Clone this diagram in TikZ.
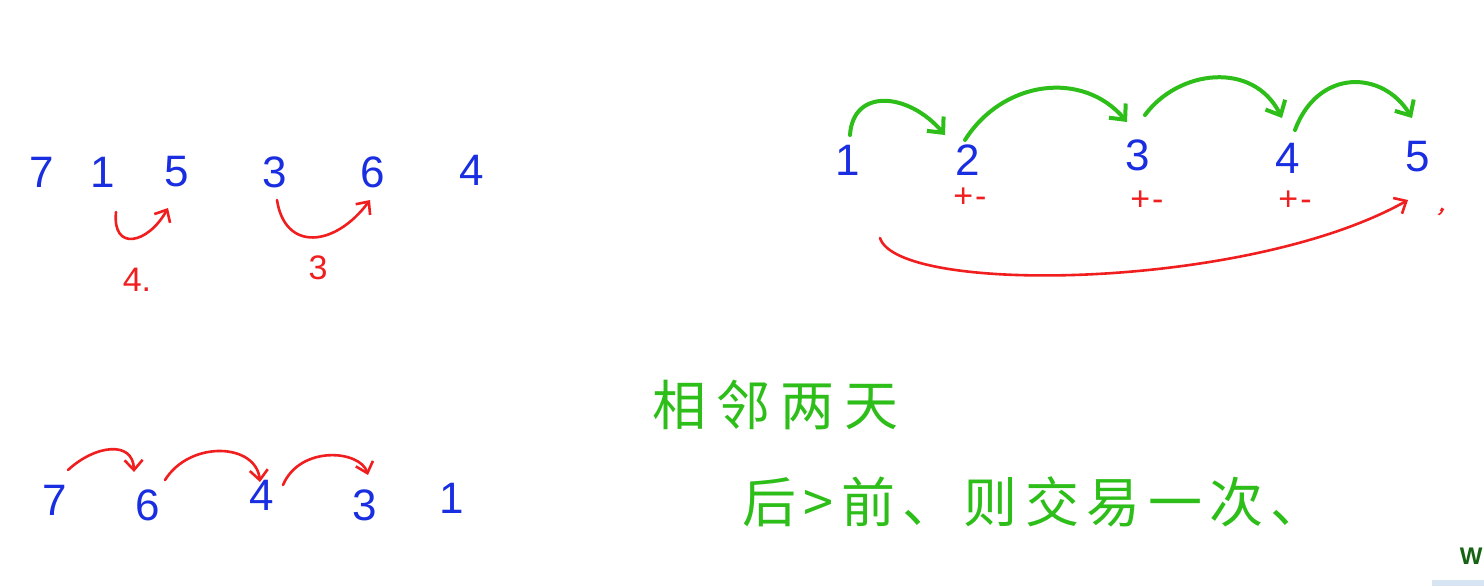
\documentclass[tikz,border=0pt]{standalone}
\usepackage{fontspec}
\setmainfont{Liberation Sans}
\newfontfamily\cjk{Noto Sans CJK SC}
\usetikzlibrary{arrows.meta,calc}
\definecolor{inkblue}{RGB}{25,45,225}
\definecolor{inkred}{RGB}{240,30,30}
\definecolor{inkgreen}{RGB}{45,190,25}
\definecolor{wgreen}{RGB}{20,100,20}
\definecolor{barblue}{RGB}{215,228,242}
\tikzset{
  num/.style={text=inkblue, font=\fontsize{22}{24}\selectfont, inner sep=0pt},
  rlabel/.style={text=inkred, font=\fontsize{17}{19}\selectfont, inner sep=0pt},
  pm/.style={text=inkred, font=\fontsize{17}{19}\selectfont, inner sep=0pt},
  note/.style={text=inkgreen, font=\cjk\fontsize{27}{30}\selectfont, inner sep=0pt, anchor=west},
  redarc/.style={draw=inkred, line width=1.3pt, line cap=round, -{Straight Barb[length=5pt,width=9pt,line width=1.3pt]}},
  greenarc/.style={draw=inkgreen, line width=2pt, line cap=round, -{Straight Barb[length=6pt,width=11pt,line width=2pt]}}
}
\begin{document}
\begin{tikzpicture}[x=0.5pt,y=-0.5pt]
\useasboundingbox (0,0) rectangle (1484,586);
\fill[white] (0,0) rectangle (1484,586);
% top-left row
\node[num] (a7) at (42,172) {7};
\node[num] (a1) at (103,172) {1};
\node[num] (a5) at (177,172) {5};
\node[num] (a3) at (275,172) {3};
\node[num] (a6) at (373,172) {6};
\node[num] (a4) at (472,170) {4};
\draw[redarc] ($(a1)+(13,40)$) .. controls ($(a1)+(9,80)$) and ($(a1)+(45,72)$) .. ($(a5)+(-9,36)$);
\draw[redarc] ($(a3)+(2,28)$) .. controls ($(a3)+(10,80)$) and ($(a3)+(60,75)$) .. ($(a6)+(-3,28)$);
\node[rlabel] (l4) at (137,280) {4.};
\node[rlabel] (l3) at (318,268) {3};
% right row
\node[num] (b1) at (848,160) {1};
\node[num] (b2) at (968,160) {2};
\node[num] (b3) at (1138,155) {3};
\node[num] (b4) at (1288,158) {4};
\node[num] (b5) at (1418,157) {5};
\draw[greenarc] ($(b1)+(2,-25)$) .. controls ($(b1)+(5,-72)$) and ($(b1)+(60,-68)$) .. ($(b2)+(-23,-25)$);
\draw[greenarc] ($(b2)+(-3,-20)$) .. controls ($(b2)+(35,-80)$) and ($(b2)+(115,-90)$) .. ($(b3)+(-11,-33)$);
\draw[greenarc] ($(b3)+(7,-40)$) .. controls ($(b3)+(40,-85)$) and ($(b3)+(115,-95)$) .. ($(b4)+(-6,-40)$);
\draw[greenarc] ($(b4)+(7,-28)$) .. controls ($(b4)+(30,-90)$) and ($(b4)+(95,-88)$) .. ($(b5)+(-6,-39)$);
\node[pm] (p2) at (970,198) {+\kern1pt-};
\node[pm] (p3) at (1147,201) {+\kern1pt-};
\node[pm] (p4) at (1295,201) {+\kern1pt-};
\draw[redarc] ($(b1)+(32,78)$) .. controls ($(b1)+(50,135)$) and ($(b1)+(400,130)$) .. ($(b5)+(-10,43)$);
\node[rlabel] (tick) at (1441,212) {\rotatebox{-30}{,}};
% bottom-left row
\node[num] (c7) at (55,500) {7};
\node[num] (c6) at (148,505) {6};
\node[num] (c4) at (262,495) {4};
\node[num] (c3) at (365,505) {3};
\node[num] (c1) at (452,498) {1};
\draw[redarc] ($(c7)+(13,-30)$) .. controls ($(c7)+(40,-55)$) and ($(c7)+(78,-60)$) .. ($(c6)+(-14,-33)$);
\draw[redarc] ($(c6)+(17,-25)$) .. controls ($(c6)+(42,-65)$) and ($(c6)+(108,-62)$) .. ($(c4)+(-2,-13)$);
\draw[redarc] ($(c4)+(21,-10)$) .. controls ($(c4)+(38,-50)$) and ($(c4)+(98,-45)$) .. ($(c3)+(3,-30)$);
% notes
\node[note] (n1) at (652,405) {相\kern5pt 邻\kern5pt 两\kern5pt 天};
\node[note] (n2) at (742,502) {后\kern3.7pt>\kern3.7pt前\kern3.7pt、\kern3.7pt则\kern3.7pt交\kern3.7pt易\kern3.7pt一\kern3.7pt次\kern3.7pt、};
% corner
\fill[barblue] (1432,580) rectangle (1484,586);
\node[text=wgreen, font=\fontsize{12}{14}\selectfont\bfseries, inner sep=0pt, anchor=east] (w) at (1483,556) {W};
\end{tikzpicture}
\end{document}
